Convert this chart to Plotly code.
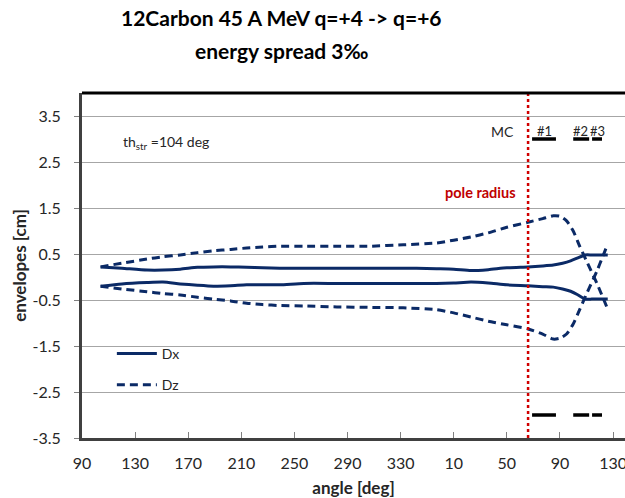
import plotly.graph_objects as go

# Envelope data along the path (continuous angle, wraps past 360 deg)
dx_angle = [104, 120, 139, 151, 164, 177, 189, 202, 214, 226, 239, 257, 282, 307,
            332, 342, 357, 370, 383, 396, 410, 426, 437, 445, 452, 458, 463, 469,
            474, 478, 482, 486]
dx_upper = [0.22, 0.19, 0.15, 0.15, 0.17, 0.21, 0.22, 0.22, 0.21, 0.20, 0.19, 0.19,
            0.19, 0.19, 0.19, 0.19, 0.18, 0.17, 0.14, 0.16, 0.20, 0.22, 0.24, 0.26,
            0.30, 0.35, 0.41, 0.48, 0.48, 0.48, 0.48, 0.48]
dx_lower = [-0.20, -0.15, -0.12, -0.11, -0.15, -0.18, -0.20, -0.19, -0.17, -0.17,
            -0.17, -0.14, -0.14, -0.14, -0.14, -0.14, -0.14, -0.13, -0.11, -0.13,
            -0.17, -0.19, -0.21, -0.22, -0.26, -0.31, -0.38, -0.48, -0.48, -0.48,
            -0.48, -0.48]

dz_angle = [104, 120, 139, 151, 164, 177, 189, 202, 214, 226, 239, 257, 282, 307,
            332, 357, 370, 383, 396, 410, 426, 437, 445, 450, 455, 460, 465, 470,
            478, 486]
dz_upper = [0.22, 0.30, 0.39, 0.44, 0.48, 0.53, 0.57, 0.60, 0.63, 0.65, 0.67, 0.67,
            0.67, 0.67, 0.70, 0.74, 0.80, 0.87, 0.96, 1.08, 1.19, 1.27, 1.33, 1.32,
            1.22, 1.00, 0.66, 0.35, -0.15, -0.70]
dz_lower = [-0.20, -0.26, -0.32, -0.36, -0.39, -0.44, -0.48, -0.52, -0.57, -0.60,
            -0.62, -0.63, -0.65, -0.66, -0.67, -0.71, -0.78, -0.87, -0.96, -1.04,
            -1.13, -1.24, -1.35, -1.33, -1.24, -1.02, -0.70, -0.37, 0.14, 0.72]

# Magnet channel extents (start, end angle) and marker level
magnet_start = [429, 460, 474.2]
magnet_end = [447, 472, 481.7]
magnet_label_pos = [438, 465.2, 478.6]
magnet_labels = ["#1", "#2", "#3"]
magnet_level = 3.0

pole_radius_angle = 426
x_ticks = [90, 130, 170, 210, 250, 290, 330, 370, 410, 450, 490]
x_tick_text = [str(v % 360) for v in x_ticks]
y_ticks = [-3.5, -2.5, -1.5, -0.5, 0.5, 1.5, 2.5, 3.5]

NAVY = "#0B2A66"
FONT = "Lato"
TXT = "#262626"

fig = go.Figure()

line_solid = dict(color=NAVY, width=3, shape="spline", smoothing=0.6)
line_dash = dict(color=NAVY, width=3, dash="8px,5px", shape="spline", smoothing=0.6)

fig.add_trace(go.Scatter(x=dx_angle, y=dx_upper, mode="lines", line=line_solid,
                         name="Dx", legendgroup="dx", showlegend=True))
fig.add_trace(go.Scatter(x=dx_angle, y=dx_lower, mode="lines", line=line_solid,
                         name="Dx", legendgroup="dx", showlegend=False))
fig.add_trace(go.Scatter(x=dz_angle, y=dz_upper, mode="lines", line=line_dash,
                         name="Dz", legendgroup="dz", showlegend=True))
fig.add_trace(go.Scatter(x=dz_angle, y=dz_lower, mode="lines", line=line_dash,
                         name="Dz", legendgroup="dz", showlegend=False))

# Magnet bars at top and bottom
mx, my_top, my_bot = [], [], []
for s, e in zip(magnet_start, magnet_end):
    mx += [s, e, None]
    my_top += [magnet_level, magnet_level, None]
    my_bot += [-magnet_level, -magnet_level, None]
for yy in (my_top, my_bot):
    fig.add_trace(go.Scatter(x=mx, y=yy, mode="lines", showlegend=False,
                             line=dict(color="black", width=3.5), hoverinfo="skip"))

# Pole radius marker
fig.add_shape(type="line", xref="x", yref="paper", x0=pole_radius_angle,
              x1=pole_radius_angle, y0=0, y1=1,
              line=dict(color="#D00000", width=2.5, dash="dot"))
# Top border of plot area
fig.add_shape(type="line", xref="paper", yref="paper", x0=0, x1=1, y0=1, y1=1,
              line=dict(color="black", width=3))

ann = []
for xp, lab in zip(magnet_label_pos, magnet_labels):
    ann.append(dict(x=xp, y=magnet_level, xref="x", yref="y", text=lab,
                    showarrow=False, yanchor="bottom", yshift=-2,
                    font=dict(family=FONT, size=13, color=TXT)))
ann.append(dict(x=417, y=3.17, xref="x", yref="y", text="MC", showarrow=False,
                xanchor="right", font=dict(family=FONT, size=14, color=TXT)))
ann.append(dict(x=418.5, y=1.83, xref="x", yref="y", text="<b>pole radius</b>",
                showarrow=False, xanchor="right",
                font=dict(family=FONT, size=14.5, color="#C00000")))
ann.append(dict(x=119.4, y=2.93, xref="x", yref="y",
                text="th<sub>str</sub> =104 deg", showarrow=False, xanchor="left",
                font=dict(family=FONT, size=14, color=TXT)))
ann.append(dict(x=0.368, y=1.261, xref="paper", yref="paper",
                text="<b>12Carbon 45 A MeV q=+4 -&gt; q=+6</b>", showarrow=False,
                font=dict(family=FONT, size=21, color="black")))
ann.append(dict(x=0.368, y=1.165, xref="paper", yref="paper",
                text="<b>energy spread 3\u2030</b>", showarrow=False,
                font=dict(family=FONT, size=21, color="black")))

fig.update_layout(
    width=625, height=498,
    margin=dict(l=82, r=0, t=93, b=60),
    paper_bgcolor="white", plot_bgcolor="white",
    font=dict(family=FONT, size=16, color=TXT),
    annotations=ann,
    legend=dict(x=0.055, y=0.29, xanchor="left", yanchor="top",
                bgcolor="rgba(0,0,0,0)", font=dict(family=FONT, size=14, color=TXT),
                tracegroupgap=10, itemwidth=40),
    xaxis=dict(range=[90, 499], tickvals=x_ticks, ticktext=x_tick_text,
               ticks="inside", ticklen=6, tickcolor="#808080", tickwidth=1,
               showline=True, linecolor="#404040", linewidth=3,
               showgrid=False, zeroline=False, ticklabelstandoff=9,
               ticklabeloverflow="allow", automargin=False,
               tickfont=dict(family=FONT, size=16, color=TXT),
               title=dict(text="<b>angle [deg]</b>", standoff=14,
                          font=dict(family=FONT, size=17, color=TXT))),
    yaxis=dict(range=[-3.5, 4.0], tickvals=y_ticks, ticktext=[str(v) for v in y_ticks],
               ticks="outside", ticklen=5, tickcolor="#808080",
               showline=True, linecolor="#404040", linewidth=3, ticklabelstandoff=10,
               showgrid=True, gridcolor="#A6A6A6", gridwidth=1, zeroline=False,
               tickfont=dict(family=FONT, size=16, color=TXT),
               title=dict(text="<b>envelopes [cm]</b>", standoff=2,
                          font=dict(family=FONT, size=17, color=TXT))),
)

fig.write_html("out.html")
